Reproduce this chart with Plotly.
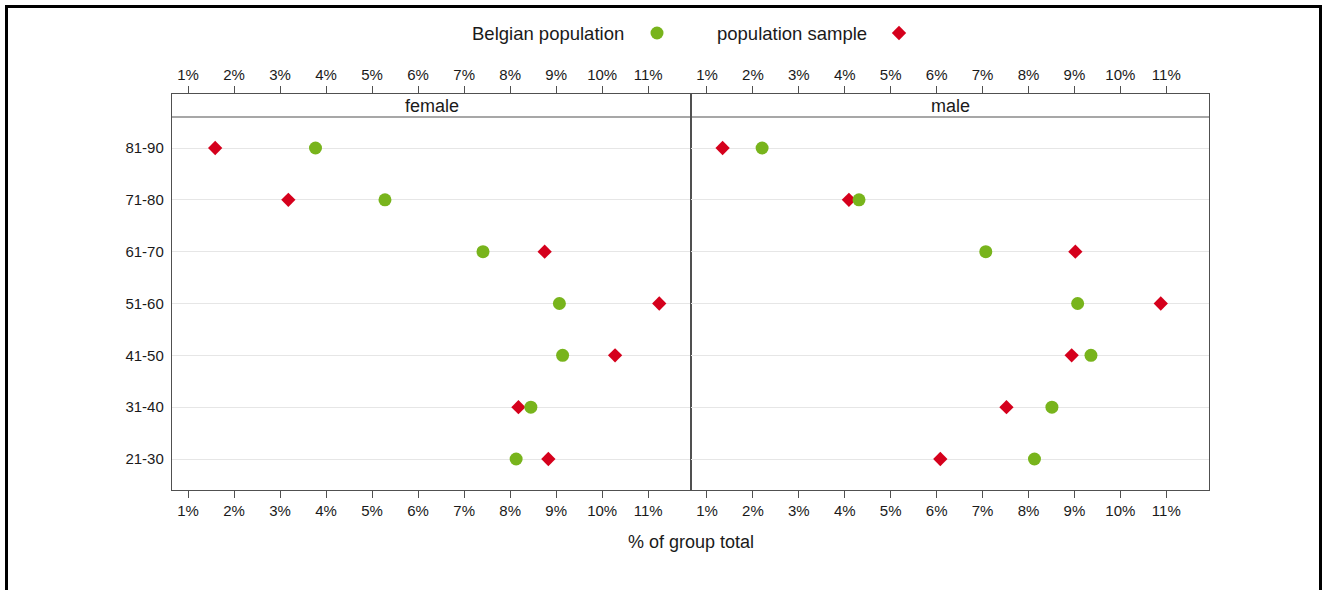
import plotly.graph_objects as go

# ---------------- data ----------------
age_groups = ["21-30", "31-40", "41-50", "51-60", "61-70", "71-80", "81-90"]
female_population = [8.13, 8.45, 9.14, 9.07, 7.41, 5.28, 3.77]
female_sample = [8.83, 8.18, 10.28, 11.24, 8.75, 3.18, 1.59]
male_population = [8.13, 8.51, 9.36, 9.07, 7.07, 4.31, 2.20]
male_sample = [6.08, 7.52, 8.94, 10.88, 9.02, 4.09, 1.34]
tick_values = list(range(1, 12))
tick_labels = [f"{v}%" for v in tick_values]
panel_titles = ["female", "male"]
legend_labels = ["Belgian population", "population sample"]
x_title = "% of group total"

# ---------------- style ----------------
W, H = 1329, 590
ML, MR, MT, MB = 172, 120, 94, 100
PW, PH = W - ML - MR, H - MT - MB
GREEN = "#78B41C"
RED = "#D5001C"
FRAME = "#505050"
GRID = "#E6E6E6"
TXT = "#1A1A1A"
FONT = "Liberation Sans, Arial, sans-serif"
XRANGE = [0.652, 11.93]
YRANGE = [-0.598, 7.042]
split = 519 / PW


def px(x):
    return (x - ML) / PW


def py(y):
    return (H - MB - y) / PH


fig = go.Figure()

panels = [
    ("x", "y", "x3", female_population, female_sample),
    ("x2", "y2", "x4", male_population, male_sample),
]
for xa, ya, xtop, pop, samp in panels:
    fig.add_trace(go.Scatter(
        x=samp, y=age_groups, xaxis=xa, yaxis=ya, mode="markers",
        marker=dict(symbol="diamond", size=11, color=RED, line=dict(width=0)),
        name=legend_labels[1], showlegend=False, hoverinfo="skip"))
    fig.add_trace(go.Scatter(
        x=pop, y=age_groups, xaxis=xa, yaxis=ya, mode="markers",
        marker=dict(symbol="circle", size=13, color=GREEN, line=dict(width=0)),
        name=legend_labels[0], showlegend=False, hoverinfo="skip"))
    # invisible trace so the top axis is drawn
    fig.add_trace(go.Scatter(
        x=pop, y=age_groups, xaxis=xtop, yaxis=ya, mode="markers",
        marker=dict(opacity=0), showlegend=False, hoverinfo="skip"))

tickfont = dict(family=FONT, size=15, color=TXT)
xcommon = dict(range=XRANGE, tickmode="array", tickvals=tick_values,
               ticktext=tick_labels, ticks="outside", ticklen=7, tickwidth=1,
               tickcolor=FRAME, showgrid=False, zeroline=False,
               tickfont=tickfont, fixedrange=True)
ycommon = dict(type="category", categoryorder="array", categoryarray=age_groups,
               range=YRANGE, showgrid=True, gridcolor=GRID, gridwidth=1,
               ticks="", showline=True, linecolor=FRAME, linewidth=1.2,
               mirror=True, zeroline=False, tickfont=tickfont, fixedrange=True)

fig.update_layout(
    width=W, height=H, autosize=False,
    margin=dict(l=ML, r=MR, t=MT, b=MB),
    paper_bgcolor="white", plot_bgcolor="white",
    showlegend=False, hovermode=False,
    font=dict(family=FONT, color=TXT),
    xaxis=dict(domain=[0, split], anchor="y", showline=True, linecolor=FRAME,
               linewidth=1.2, mirror=True, **xcommon),
    xaxis2=dict(domain=[split, 1], anchor="y2", showline=True, linecolor=FRAME,
                linewidth=1.2, mirror=True, **xcommon),
    xaxis3=dict(overlaying="x", side="top", anchor="y", showline=False, **xcommon),
    xaxis4=dict(overlaying="x2", side="top", anchor="y2", showline=False, **xcommon),
    yaxis=dict(domain=[0, 1], anchor="x", showticklabels=True, ticklabelstandoff=4, **ycommon),
    yaxis2=dict(domain=[0, 1], anchor="x2", showticklabels=False, **ycommon),
)

shapes = []
annotations = []
# strip bottom line
strip_bottom = py(117)
shapes.append(dict(type="line", xref="paper", yref="paper", x0=0, x1=1,
                   y0=strip_bottom, y1=strip_bottom, line=dict(color=FRAME, width=1.2)))
strip_mid = py(105.5)
for title, (a, b) in zip(panel_titles, [(0, split), (split, 1)]):
    annotations.append(dict(text=title, xref="paper", yref="paper", x=(a + b) / 2,
                            y=strip_mid, showarrow=False, xanchor="center",
                            yanchor="middle", font=dict(family=FONT, size=18, color=TXT)))
# axis title
annotations.append(dict(text=x_title, xref="paper", yref="paper", x=px(690.5), y=py(542),
                        showarrow=False, xanchor="center", yanchor="middle",
                        font=dict(family=FONT, size=18, color=TXT)))
# legend (text then symbol)
ly = py(33)
annotations.append(dict(text=legend_labels[0], xref="paper", yref="paper", x=px(626), y=ly,
                        showarrow=False, xanchor="right", yanchor="middle",
                        font=dict(family=FONT, size=18.5, color=TXT)))
annotations.append(dict(text=legend_labels[1], xref="paper", yref="paper", x=px(869), y=ly,
                        showarrow=False, xanchor="right", yanchor="middle",
                        font=dict(family=FONT, size=18.5, color=TXT)))
r = 6.5
shapes.append(dict(type="circle", xref="paper", yref="paper",
                   x0=px(657 - r), x1=px(657 + r), y0=py(33 + r), y1=py(33 - r),
                   fillcolor=GREEN, line=dict(width=0)))
cx, cy, d = 899, 33, 7.2
path = (f"M {px(cx)},{py(cy - d)} L {px(cx + d)},{py(cy)} "
        f"L {px(cx)},{py(cy + d)} L {px(cx - d)},{py(cy)} Z")
shapes.append(dict(type="path", xref="paper", yref="paper", path=path,
                   fillcolor=RED, line=dict(width=0)))
# outer frame
shapes.append(dict(type="rect", xref="paper", yref="paper",
                   x0=px(6.5), x1=px(1320.5), y0=py(640), y1=py(6.5),
                   line=dict(color="black", width=3), fillcolor="rgba(0,0,0,0)"))

fig.update_layout(shapes=shapes, annotations=annotations)
fig.write_html(
    "out.html",
    config={"displayModeBar": False, "staticPlot": True},
    post_script="document.body.style.margin='0';document.body.style.overflow='hidden';",
)
